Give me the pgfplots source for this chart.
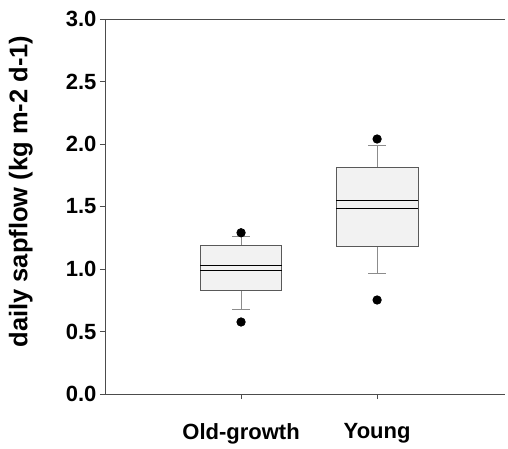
\documentclass[border=0pt]{standalone}
\usepackage{pgfplots}
\pgfplotsset{compat=1.18}
\usepgfplotslibrary{statistics}
\usepackage{fontspec}
\setmainfont{Liberation Sans}
\begin{document}
\begin{tikzpicture}
\useasboundingbox (-105pt,-54pt) rectangle (403pt,394pt);
\begin{axis}[
  at={(0,0)}, anchor=south west,
  scale only axis, width=400pt, height=375pt,
  xmin=0, xmax=2.94, ymin=0, ymax=3,
  separate axis lines,
  axis x line*=box, axis y line*=left,
  axis line style={black!70, line width=0.8pt},
  xtick={1,2}, xticklabels={Old-growth,Young},
  xtick pos=bottom,
  ytick={0,0.5,...,3},
  ytick pos=left,
  tick align=outside,
  major tick length=5pt,
  tick style={black!70, line width=0.7pt},
  /pgf/number format/assume math mode=true,
  yticklabel style={font=\fontsize{22}{24}\selectfont\bfseries, /pgf/number format/.cd, fixed, fixed zerofill, precision=1},
  xticklabel style={font=\fontsize{22}{24}\selectfont\bfseries, yshift=-21pt},
  ylabel={daily sapflow (kg m-2 d-1)},
  ylabel style={font=\fontsize{25.5}{28}\selectfont\bfseries, at={(axis description cs:-0.172,0.54)}, anchor=south, rotate=0},
  boxplot/draw direction=y,
  clip=false,
]
\addplot+[boxplot prepared={draw position=1,
    lower whisker=0.68, lower quartile=0.83, median=0.99,
    upper quartile=1.186, upper whisker=1.26,
    box extend=0.6, whisker extend=0.13,
    every whisker/.style={draw=black!45, line width=0.9pt},
    every median/.style={draw=black, line width=1.1pt}},
  draw=black!65, fill=gray!10, line width=0.8pt,
  mark=*, mark size=4.2pt, mark options={black, fill=black}]
  table[row sep=\\, y index=0] {0.576\\1.29\\};
\addplot+[boxplot prepared={draw position=2,
    lower whisker=0.966, lower quartile=1.184, median=1.486,
    upper quartile=1.814, upper whisker=1.99,
    box extend=0.6, whisker extend=0.13,
    every whisker/.style={draw=black!45, line width=0.9pt},
    every median/.style={draw=black, line width=1.1pt}},
  draw=black!65, fill=gray!10, line width=0.8pt,
  mark=*, mark size=4.2pt, mark options={black, fill=black}]
  table[row sep=\\, y index=0] {0.752\\2.04\\};
\addplot[black, line width=1.1pt, mark=none] coordinates {(0.7,1.03) (1.3,1.03)};
\addplot[black, line width=1.1pt, mark=none] coordinates {(1.7,1.546) (2.3,1.546)};
\end{axis}
\end{tikzpicture}
\end{document}
